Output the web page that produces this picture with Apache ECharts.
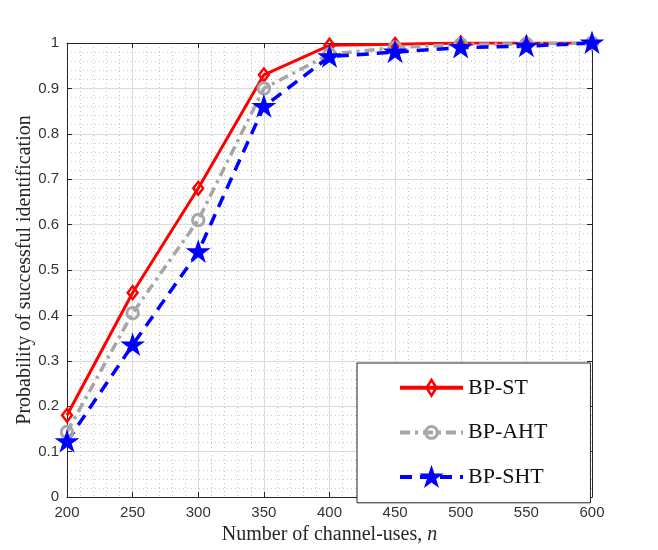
<!DOCTYPE html>
<html lang="en">
<head>
    <meta charset="UTF-8">
    <title>Probability of successful identification</title>
    <script src="https://cdn.jsdelivr.net/npm/echarts@6/dist/echarts.min.js"></script>
    <style>
        html, body { margin: 0; padding: 0; background: #fff; }
    </style>
</head>
<body>
    <div id="main" style="width: 658px; height: 550px;"></div>
    <script>
        // channel-uses n
        var channelUses = [200, 250, 300, 350, 400, 450, 500, 550, 600];
        var bpST  = [0.18, 0.45, 0.68, 0.93, 0.995, 0.997, 1.0, 1.0, 1.0];
        var bpAHT = [0.143, 0.405, 0.61, 0.90, 0.975, 0.99, 0.997, 0.998, 1.0];
        var bpSHT = [0.122, 0.335, 0.54, 0.86, 0.97, 0.98, 0.99, 0.993, 1.0];
        var seriesNames = ['BP-ST', 'BP-AHT', 'BP-SHT'];

        function pairs(ys) {
            return channelUses.map(function (x, i) { return [x, ys[i]]; });
        }

        // hollow markers (like matlab 'd' and 'o'), drawn in a 100x100 box so the legend keeps their size
        var box = 'M0,0 L0,0 M100,100 L100,100 ';
        var diamond = 'path://' + box + 'M50,10 L75,50 L50,90 L25,50 Z M50,29 L37,50 L50,71 L63,50 Z';
        var ring = 'path://' + box + 'M21,50 A29,29 0 1,1 79,50 A29,29 0 1,1 21,50 Z M33,50 A17,17 0 1,0 67,50 A17,17 0 1,0 33,50 Z';
        var star = 'path://' + box + 'M50,2 L61.2,36.6 L97.6,36.6 L68.2,58 L79.4,92.6 L50,71.2 L20.6,92.6 L31.8,58 L2.4,36.6 L38.8,36.6 Z';

        var axisColor = '#262626';
        var serif = 'Liberation Serif, Times New Roman, serif';
        var tickFont = { color: '#333', fontSize: 15, fontFamily: 'Liberation Sans, Arial, sans-serif' };

        var myChart = echarts.init(document.getElementById('main'));

        var option = {
            backgroundColor: '#fff',
            animation: false,
            grid: { left: 67, right: 66, top: 43, bottom: 51 },
            legend: {
                orient: 'vertical',
                left: 357,
                top: 363,
                data: [
                    { name: seriesNames[0], lineStyle: { width: 4 } },
                    { name: seriesNames[1], lineStyle: { width: 4 } },
                    { name: seriesNames[2], lineStyle: { width: 4 } }
                ],
                itemWidth: 63,
                itemHeight: 32,
                itemGap: 19,
                padding: [12, 43, 13, 41],
                backgroundColor: '#fff',
                borderColor: axisColor,
                borderWidth: 1,
                borderRadius: 0,
                textStyle: { color: '#111', fontSize: 22, fontFamily: serif }
            },
            xAxis: [{
                type: 'value',
                min: 200,
                max: 600,
                interval: 50,
                name: 'Number of channel-uses, {i|n}',
                nameLocation: 'middle',
                nameGap: 28,
                nameMoveOverlap: false,
                nameTextStyle: {
                    color: axisColor, fontSize: 20, fontFamily: serif,
                    rich: { i: { fontStyle: 'italic', fontSize: 20, fontFamily: serif, color: axisColor } }
                },
                axisLine: { lineStyle: { color: axisColor, width: 1 } },
                axisTick: { inside: true, length: 5, lineStyle: { color: axisColor } },
                axisLabel: tickFont,
                splitLine: { show: true, lineStyle: { color: '#dadada', width: 1 } },
                minorTick: { show: false, splitNumber: 5 },
                minorSplitLine: { show: true, lineStyle: { color: '#c8c8c8', width: 1, type: [1, 3] } }
            }, {
                type: 'value',
                position: 'top',
                min: 200,
                max: 600,
                interval: 50,
                axisLine: { show: true, onZero: false, lineStyle: { color: axisColor, width: 1 } },
                axisTick: { show: true, inside: true, length: 5, lineStyle: { color: axisColor } },
                axisLabel: { show: false },
                splitLine: { show: false }
            }],
            yAxis: [{
                type: 'value',
                min: 0,
                max: 1,
                interval: 0.1,
                name: 'Probability of successful identification',
                nameLocation: 'middle',
                nameGap: 32,
                nameMoveOverlap: false,
                nameTextStyle: { color: axisColor, fontSize: 20, fontFamily: serif },
                axisLine: { show: true, lineStyle: { color: axisColor, width: 1 } },
                axisTick: { show: true, inside: true, length: 5, lineStyle: { color: axisColor } },
                axisLabel: tickFont,
                splitLine: { show: true, lineStyle: { color: '#dadada', width: 1 } },
                minorTick: { show: false, splitNumber: 5 },
                minorSplitLine: { show: true, lineStyle: { color: '#c8c8c8', width: 1, type: [1, 3] } }
            }, {
                type: 'value',
                position: 'right',
                min: 0,
                max: 1,
                interval: 0.1,
                axisLine: { show: true, onZero: false, lineStyle: { color: axisColor, width: 1 } },
                axisTick: { show: true, inside: true, length: 5, lineStyle: { color: axisColor } },
                axisLabel: { show: false },
                splitLine: { show: false }
            }],
            series: [
                {
                    name: 'BP-ST',
                    type: 'line',
                    data: pairs(bpST),
                    symbol: diamond,
                    symbolSize: [26, 21],
                    symbolKeepAspect: false,
                    lineStyle: { color: '#ff0000', width: 3, type: 'solid' },
                    itemStyle: { color: '#ff0000', borderWidth: 0 }
                },
                {
                    name: 'BP-AHT',
                    type: 'line',
                    data: pairs(bpAHT),
                    symbol: ring,
                    symbolSize: 25,
                    symbolKeepAspect: true,
                    lineStyle: { color: '#a6a6a6', width: 3.5, type: [10, 5, 3, 5] },
                    itemStyle: { color: '#a6a6a6', borderWidth: 0 }
                },
                {
                    name: 'BP-SHT',
                    type: 'line',
                    data: pairs(bpSHT),
                    symbol: star,
                    symbolSize: 26,
                    symbolKeepAspect: true,
                    lineStyle: { color: '#0000ff', width: 3.5, type: [12, 8] },
                    itemStyle: { color: '#0000ff', borderWidth: 0 }
                }
            ]
        };

        myChart.setOption(option);
    </script>
</body>
</html>
